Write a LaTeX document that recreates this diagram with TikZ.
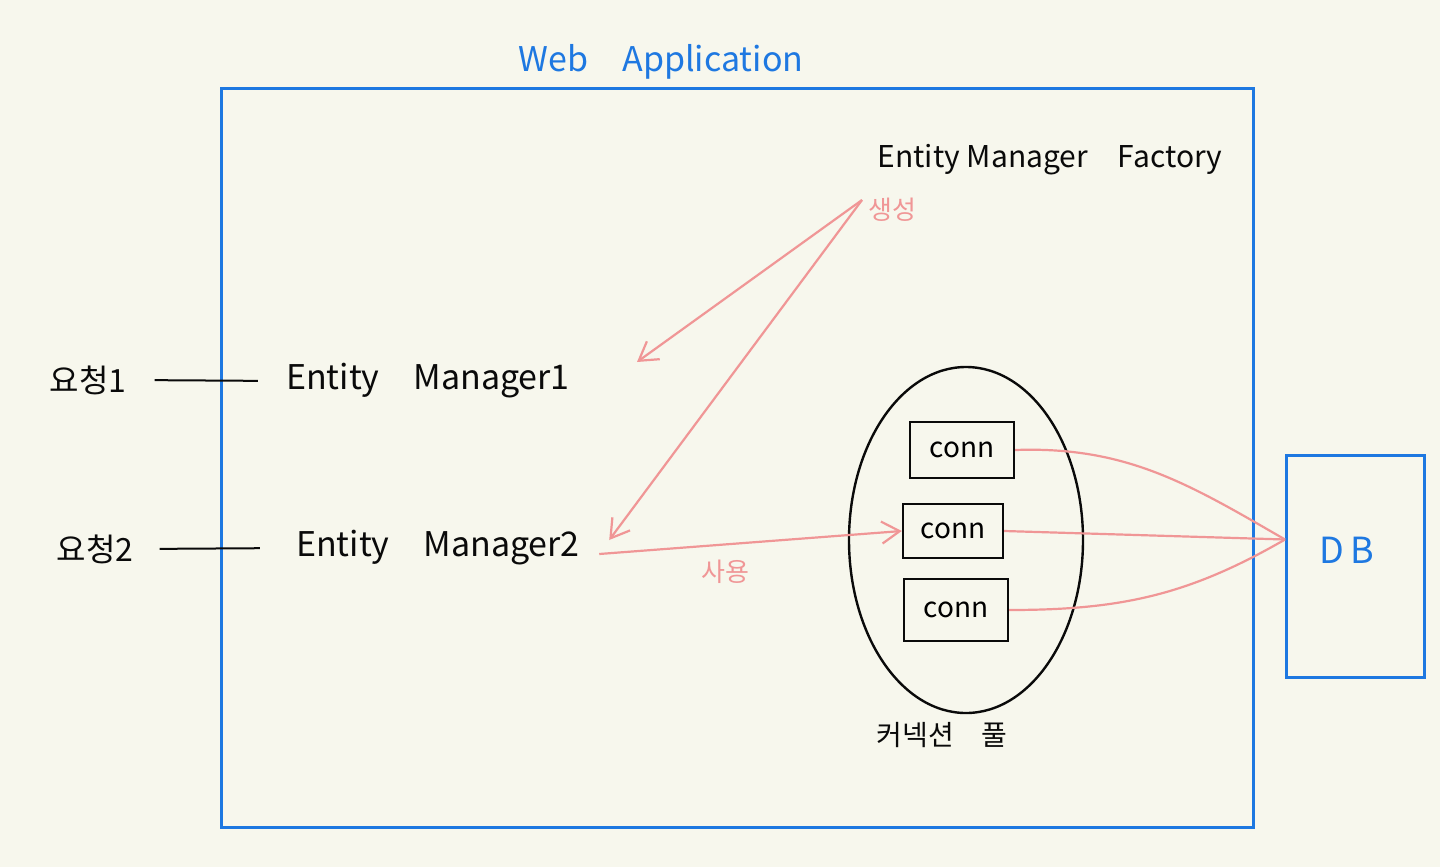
\documentclass[tikz,border=0pt]{standalone}
\usepackage{fontspec}
\setmainfont{Noto Sans CJK KR}
\usepackage{xcolor}
\usetikzlibrary{arrows.meta,positioning,calc}
\definecolor{paper}{RGB}{247,247,237}
\definecolor{appblue}{RGB}{30,120,225}
\definecolor{rose}{RGB}{240,150,150}
\definecolor{ink}{RGB}{10,10,10}

\begin{document}
\begin{tikzpicture}[x=0.5pt,y=-0.5pt,
      font=\fontsize{17}{20}\selectfont,
      label/.style={inner sep=2pt,text=ink},
      bluetxt/.style={label,text=appblue},
      pinktxt/.style={label,text=rose,font=\fontsize{13}{15}\selectfont},
      frame/.style={draw=appblue,line width=1.5pt},
      connbox/.style={draw=ink,line width=1.2pt,fill=paper,font=\fontsize{14}{16}\selectfont},
      ln/.style={draw=ink,line width=1pt},
      ar/.style={-{Straight Barb[length=9pt,width=11pt]},line width=1.1pt,color=rose},
      lk/.style={line width=1.1pt,color=rose}]
      % canvas
      \fill[paper] (0,0) rectangle (1440,867);
      \useasboundingbox (0,0) rectangle (1440,867);
      % web application frame
      \draw[frame] (221,88) rectangle (1253,827);
      \node[bluetxt] (app) at (661,62) {Web\quad Application};
      \node[label,font=\fontsize{15}{18}\selectfont] (factory) at (1050,160) {Entity Manager\quad Factory};
      \coordinate (src) at (862,200);
      \node[pinktxt,anchor=west] (gen) at (864,210) {생성};
      % requests and entity managers
      \node[label,font=\fontsize{16}{18}\selectfont] (req1) at (88,380) {요청1};
      \node[label] (em1) at (428,381) {Entity\quad Manager1};
      \node[label,font=\fontsize{16}{18}\selectfont] (req2) at (95,549) {요청2};
      \node[label] (em2) at (438,548) {Entity\quad Manager2};
      \draw[ln,shorten <=12pt,shorten >=12pt] (req1.east) -- (em1.west);
      \draw[ln,shorten <=11pt,shorten >=16pt] (req2.east) -- (em2.west);
      \coordinate (em1tip) at (637,362);
      % connection pool
      \draw[ink,line width=1.2pt] (966,540) ellipse [x radius=117, y radius=173];
      \node[connbox,minimum width=52pt,minimum height=28pt] (c1) at (962,450) {conn};
      \node[connbox,minimum width=50pt,minimum height=27pt] (c2) at (953,531) {conn};
      \node[connbox,minimum width=52pt,minimum height=31pt] (c3) at (956,610) {conn};
      \node[label,font=\fontsize{14}{16}\selectfont] (pool) at (942,735) {커넥션\quad 풀};
      % database
      \node[frame,minimum width=69pt,minimum height=111pt] (db) at (1355.5,566.5) {};
      \node[bluetxt,font=\fontsize{18}{20}\selectfont] (dbname) at (1347,550) {D\,B};
      % connectors
      \draw[ar] (src) -- (em1tip);
      \draw[ar] (src) -- ($(em2.east)+(25,-8)$);
      \draw[ar] ($(em2.east)+(15,6)$) -- (c2.west);
      \node[pinktxt] (use) at (725,572) {사용};
      \draw[lk] (c1.east) to[out=2,in=150] ($(db.west)+(0,-27)$);
      \draw[lk] (c2.east) -- ($(db.west)+(0,-27)$);
      \draw[lk] (c3.east) to[out=0,in=210] ($(db.west)+(0,-27)$);
    \end{tikzpicture}
\end{document}
